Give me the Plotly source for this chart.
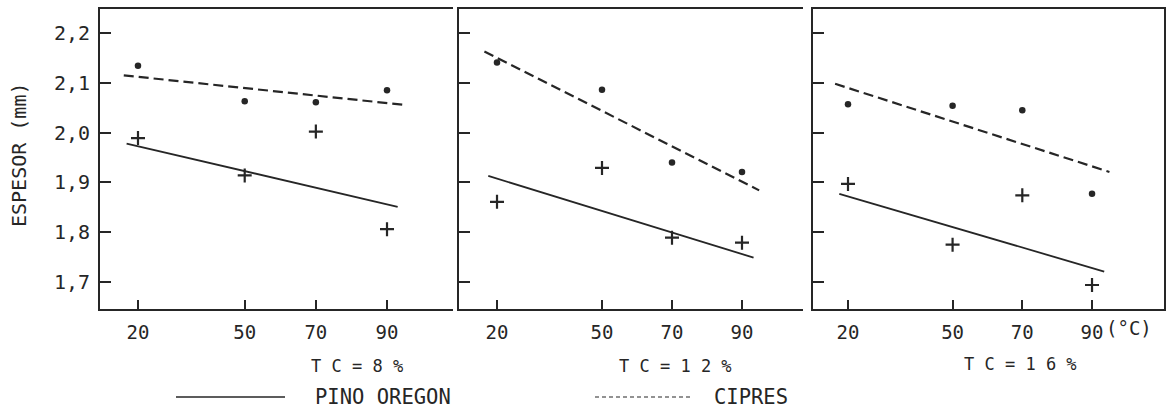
import plotly.graph_objects as go

# ---------------- data ----------------
temps = [20, 50, 70, 90]
tick_vals_x = [20, 50, 70, 90]
tick_text_x = ["20", "50", "70", "90"]
tick_vals_y = [1.7, 1.8, 1.9, 2.0, 2.1, 2.2]
tick_text_y = ["1,7", "1,8", "1,9", "2,0", "2,1", "2,2"]
panel_titles = ["T C = 8 %", "T C = 1 2 %", "T C = 1 6 %"]

cipres_8 = [2.134, 2.063, 2.061, 2.085]
pino_8 = [1.989, 1.914, 2.002, 1.806]
cipres_12 = [2.141, 2.086, 1.940, 1.921]
pino_12 = [1.861, 1.929, 1.789, 1.779]
cipres_16 = [2.057, 2.054, 2.045, 1.877]
pino_16 = [1.897, 1.775, 1.874, 1.694]

# fitted lines (start / end)
cipres_fit_x_8 = [16.0, 94.4]
cipres_fit_y_8 = [2.115, 2.056]
pino_fit_x_8 = [16.8, 93.0]
pino_fit_y_8 = [1.978, 1.851]
cipres_fit_x_12 = [16.4, 94.9]
cipres_fit_y_12 = [2.163, 1.884]
pino_fit_x_12 = [17.5, 93.3]
pino_fit_y_12 = [1.913, 1.749]
cipres_fit_x_16 = [16.3, 95.0]
cipres_fit_y_16 = [2.098, 1.921]
pino_fit_x_16 = [17.5, 93.5]
pino_fit_y_16 = [1.877, 1.721]

# ---------------- layout helpers ----------------
W, H = 1175, 410
INK = "#262626"
FONT = "DejaVu Sans Mono"

def px(x):
    return x / W

def py(y):
    return 1 - y / H

panels = [
    dict(cip=cipres_8, pin=pino_8, cfx=cipres_fit_x_8, cfy=cipres_fit_y_8,
         pfx=pino_fit_x_8, pfy=pino_fit_y_8, dom=(100, 453), rng=(9.32, 108.55)),
    dict(cip=cipres_12, pin=pino_12, cfx=cipres_fit_x_12, cfy=cipres_fit_y_12,
         pfx=pino_fit_x_12, pfy=pino_fit_y_12, dom=(459, 803), rng=(9.14, 107.43)),
    dict(cip=cipres_16, pin=pino_16, cfx=cipres_fit_x_16, cfy=cipres_fit_y_16,
         pfx=pino_fit_x_16, pfy=pino_fit_y_16, dom=(813, 1164), rng=(9.96, 110.65)),
]

y_top, y_bot = 9, 309
y_range = [1.6458, 2.2482]

fig = go.Figure()
layout = dict(
    width=W, height=H,
    margin=dict(l=0, r=0, t=0, b=0),
    paper_bgcolor="white", plot_bgcolor="white",
    showlegend=False,
    font=dict(family=FONT, color=INK),
)

for i, p in enumerate(panels):
    n = "" if i == 0 else str(i + 1)
    xa, ya = "x" + n, "y" + n
    fig.add_trace(go.Scatter(x=p["cfx"], y=p["cfy"], mode="lines", xaxis=xa, yaxis=ya,
                             line=dict(color=INK, width=2.2, dash="10px,5px"), name="CIPRES"))
    fig.add_trace(go.Scatter(x=p["pfx"], y=p["pfy"], mode="lines", xaxis=xa, yaxis=ya,
                             line=dict(color=INK, width=1.8), name="PINO OREGON"))
    fig.add_trace(go.Scatter(x=temps, y=p["cip"], mode="markers", xaxis=xa, yaxis=ya,
                             marker=dict(symbol="circle", size=6.5, color=INK), name="CIPRES"))
    fig.add_trace(go.Scatter(x=temps, y=p["pin"], mode="markers", xaxis=xa, yaxis=ya,
                             marker=dict(symbol="cross-thin", size=10,
                                         line=dict(color=INK, width=2.2)), name="PINO OREGON"))
    layout["xaxis" + n] = dict(
        domain=[px(p["dom"][0]), px(p["dom"][1])], range=list(p["rng"]),
        anchor=ya, showline=True, linecolor=INK, linewidth=2, mirror=True,
        ticks="inside", ticklen=9, tickwidth=1.5, tickcolor=INK,
        tickvals=tick_vals_x, ticktext=tick_text_x, showgrid=False, zeroline=False,
        tickfont=dict(family=FONT, size=19, color=INK), ticklabelstandoff=5,
        automargin=False,
    )
    layout["yaxis" + n] = dict(
        domain=[py(y_bot), py(y_top)], range=y_range, anchor=xa,
        showline=True, linecolor=INK, linewidth=2, mirror=(i == 2),
        ticks="inside", ticklen=11, tickwidth=1.5, tickcolor=INK,
        tickvals=tick_vals_y, ticktext=tick_text_y,
        showticklabels=(i == 0), showgrid=False, zeroline=False,
        tickfont=dict(family=FONT, size=20, color=INK), ticklabelstandoff=4,
        automargin=False,
    )

fig.update_layout(**layout)

def note(text, x, y, size, xanchor="center", angle=0):
    return dict(text=text, x=px(x), y=py(y), xref="paper", yref="paper",
                xanchor=xanchor, yanchor="middle", textangle=angle, showarrow=False,
                font=dict(family=FONT, size=size, color=INK))

annotations = [
    note("ESPESOR (mm)", 19, 155, 20, angle=-90),
    note("(°C)", 1104, 328, 19, xanchor="left"),
    note(panel_titles[0], 357, 366, 17),
    note(panel_titles[1], 675, 366, 17),
    note(panel_titles[2], 1020, 364, 17),
    note("PINO OREGON", 313, 397, 20.5, xanchor="left"),
    note("CIPRES", 712, 397, 20.5, xanchor="left"),
]
fig.update_layout(annotations=annotations)

shapes = [
    dict(type="line", xref="paper", yref="paper", x0=px(176), x1=px(285), y0=py(397), y1=py(397),
         line=dict(color=INK, width=1.5)),
    dict(type="line", xref="paper", yref="paper", x0=px(595), x1=px(692), y0=py(397), y1=py(397),
         line=dict(color=INK, width=1.2, dash="4px,3px")),
]
fig.update_layout(shapes=shapes)

fig.write_html("out.html")
